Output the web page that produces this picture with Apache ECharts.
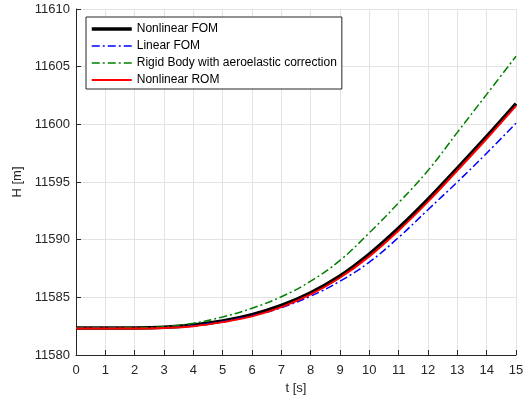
<!DOCTYPE html>
<html>
<head>
<meta charset="utf-8">
<script src="https://cdn.jsdelivr.net/npm/echarts@6/dist/echarts.min.js"></script>
<style>
  html, body { margin: 0; padding: 0; background: #fff; }
  #main { width: 527px; height: 408px; }
</style>
</head>
<body>
<div id="main"></div>
<script>
// time [s]
const tVals = [0, 1, 2, 3, 4, 5, 6, 7, 8, 9, 10, 11, 12, 13, 14, 15];

// altitude H [m]
const nonlinearFom = [11582.35, 11582.35, 11582.35, 11582.4, 11582.6, 11582.95, 11583.5, 11584.3, 11585.4, 11586.85, 11588.75, 11591.0, 11593.5, 11596.2, 11598.95, 11601.8];
const linearFom = [11582.35, 11582.35, 11582.35, 11582.37, 11582.55, 11582.9, 11583.4, 11584.1, 11585.1, 11586.4, 11588.05, 11590.2, 11592.6, 11595.0, 11597.5, 11600.1];
const rigidBody = [11582.35, 11582.35, 11582.36, 11582.45, 11582.75, 11583.3, 11584.05, 11585.05, 11586.4, 11588.2, 11590.6, 11593.2, 11596.0, 11599.3, 11602.6, 11605.9];
const nonlinearRom = [11582.3, 11582.3, 11582.3, 11582.35, 11582.5, 11582.85, 11583.35, 11584.15, 11585.25, 11586.7, 11588.55, 11590.8, 11593.3, 11596.0, 11598.75, 11601.6];

const yTicks = [11580, 11585, 11590, 11595, 11600, 11605, 11610];

const seriesNames = ['Nonlinear FOM', 'Linear FOM', 'Rigid Body with aeroelastic correction', 'Nonlinear ROM'];

const pairs = (ys) => tVals.map((t, i) => [t, ys[i]]);

const dashDot = [8, 3, 2, 3];
const txt = '#262626';

const styles = [
    { color: '#000', width: 3.5 },
    { color: '#0000ff', width: 1.5, type: dashDot },
    { color: '#008000', width: 1.5, type: dashDot },
    { color: '#ff0000', width: 2 }
];
const values = [nonlinearFom, linearFom, rigidBody, nonlinearRom];

const chart = echarts.init(document.getElementById('main'));
const option = {
    backgroundColor: '#fff',
    animation: false,
    textStyle: { fontFamily: 'Liberation Sans, Arial, sans-serif' },
    grid: { left: 76, right: 11, top: 9, bottom: 53 },
    legend: {
        orient: 'vertical',
        left: 86,
        top: 17,
        padding: [6, 5, 3, 4],
        itemWidth: 40,
        itemHeight: 14,
        itemGap: 5,
        itemStyle: { opacity: 0 },
        borderColor: txt,
        borderWidth: 1,
        backgroundColor: '#fff',
        textStyle: { fontSize: 12, color: '#000', fontFamily: 'Liberation Sans, Arial, sans-serif' },
        data: seriesNames.map((n, i) => ({ name: n, lineStyle: styles[i] }))
    },
    xAxis: {
        type: 'value',
        min: 0,
        max: 15,
        interval: 1,
        name: 't [s]',
        nameLocation: 'middle',
        nameGap: 24,
        nameTextStyle: { fontSize: 13, color: txt },
        axisLine: { lineStyle: { color: txt, width: 1 } },
        axisTick: { inside: true, length: 5, lineStyle: { color: txt } },
        axisLabel: { fontSize: 13, color: txt, margin: 9 },
        splitLine: { show: true, lineStyle: { color: '#e3e3e3', width: 1 } }
    },
    yAxis: {
        type: 'value',
        min: yTicks[0],
        max: yTicks[yTicks.length - 1],
        interval: 5,
        name: 'H [m]',
        nameLocation: 'middle',
        nameGap: 42,
        nameTextStyle: { fontSize: 13, color: txt },
        axisLine: { show: true, lineStyle: { color: txt, width: 1 } },
        axisTick: { show: true, inside: true, length: 5, lineStyle: { color: txt } },
        axisLabel: { fontSize: 13, color: txt, margin: 6, formatter: (v) => String(v) },
        splitLine: { show: true, lineStyle: { color: '#e3e3e3', width: 1 } }
    },
    series: seriesNames.map((n, i) => ({
        name: n,
        type: 'line',
        data: pairs(values[i]),
        smooth: 0.4,
        symbol: 'none',
        lineStyle: styles[i],
        itemStyle: { color: styles[i].color }
    }))
};
chart.setOption(option);
</script>
</body>
</html>
